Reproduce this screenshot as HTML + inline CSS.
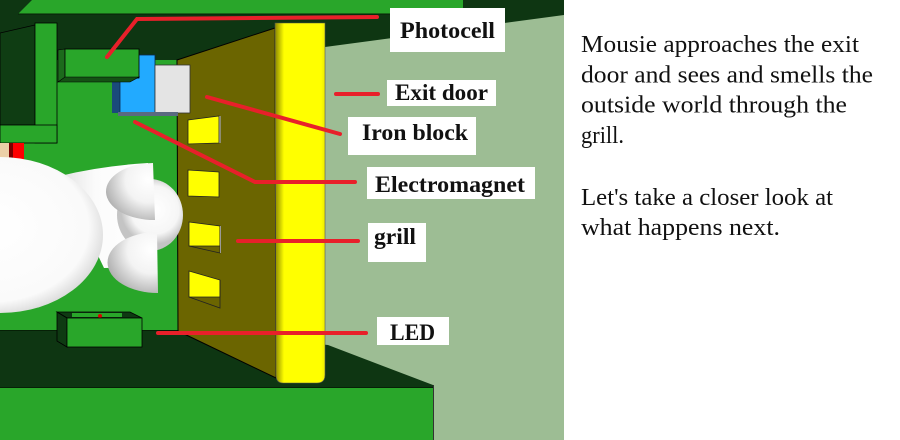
<!DOCTYPE html>
<html><head><meta charset="utf-8"><style>
html,body{margin:0;padding:0;background:#fff;}
svg{display:block;}
</style></head><body>
<svg width="900" height="440" viewBox="0 0 900 440" xmlns="http://www.w3.org/2000/svg">
<defs>
 <linearGradient id="pil" x1="0" x2="1" y1="0" y2="0">
  <stop offset="0" stop-color="#8a8600"/>
  <stop offset="0.18" stop-color="#ffff00"/>
  <stop offset="0.92" stop-color="#ffff00"/>
  <stop offset="1" stop-color="#eeee00"/>
 </linearGradient>
 <radialGradient id="body" cx="0.45" cy="0.45" r="0.6">
  <stop offset="0" stop-color="#ffffff"/>
  <stop offset="0.8" stop-color="#fafafa"/>
  <stop offset="1" stop-color="#d2d2d2"/>
 </radialGradient>
 <radialGradient id="snout" gradientUnits="userSpaceOnUse" cx="155" cy="210" r="34">
  <stop offset="0" stop-color="#ffffff"/>
  <stop offset="0.7" stop-color="#f6f6f6"/>
  <stop offset="1" stop-color="#c4c4c4"/>
 </radialGradient>
 <radialGradient id="ear1" gradientUnits="userSpaceOnUse" cx="148" cy="180" r="50">
  <stop offset="0" stop-color="#ffffff"/>
  <stop offset="0.45" stop-color="#f3f3f3"/>
  <stop offset="1" stop-color="#a0a0a0"/>
 </radialGradient>
 <radialGradient id="ear2" gradientUnits="userSpaceOnUse" cx="151" cy="250" r="52">
  <stop offset="0" stop-color="#ffffff"/>
  <stop offset="0.45" stop-color="#f3f3f3"/>
  <stop offset="1" stop-color="#a0a0a0"/>
 </radialGradient>
 <linearGradient id="neck" x1="0" x2="1" y1="0" y2="0">
  <stop offset="0" stop-color="#e2e2e2"/>
  <stop offset="0.4" stop-color="#fbfbfb"/>
  <stop offset="1" stop-color="#ffffff"/>
 </linearGradient>
</defs>

<!-- scene background (sage wall) -->
<rect x="0" y="0" width="564" height="440" fill="#9dbd94"/>
<!-- dark ceiling -->
<polygon points="0,0 564,0 564,15 325,47 275,47 275,30 177,60 0,62" fill="#0e3612"/>
<!-- bright top band -->
<polygon points="32,0 463,0 463,14 18,14" fill="#29a62a"/>
<line x1="18" y1="14" x2="463" y2="14" stroke="#062006" stroke-width="1"/>

<!-- back wall bright green -->
<rect x="0" y="60" width="178" height="271" fill="#29a62a"/>

<!-- left panel -->
<polygon points="0,33 35,25 35,125 0,125" fill="#0f3d13" stroke="#000" stroke-width="0.8"/>
<rect x="35" y="23" width="22" height="120" fill="#29a62a" stroke="#000" stroke-width="0.8"/>
<rect x="0" y="125" width="57" height="18" fill="#29a62a" stroke="#000" stroke-width="0.8"/>
<rect x="0" y="143" width="9" height="16" fill="#ecd0a8"/>
<rect x="9" y="143" width="4" height="20" fill="#7a0000"/>
<rect x="13" y="143" width="11" height="20" fill="#ff0000"/>

<!-- dark floor -->
<polygon points="0,330 178,330 328,345 433,385 433,388 0,388" fill="#0e3612"/>
<line x1="0" y1="330.5" x2="178" y2="330.5" stroke="#062006" stroke-width="1"/>
<!-- bright floor -->
<rect x="0" y="388" width="433" height="52" fill="#29a62a"/>
<line x1="0" y1="387.5" x2="433" y2="387.5" stroke="#062006" stroke-width="1"/>
<line x1="433.5" y1="385" x2="433.5" y2="440" stroke="#333" stroke-width="1"/>

<!-- door -->
<polygon points="177,60 275,28 276,378 178,331" fill="#6b6500" stroke="#000" stroke-width="1"/>

<!-- grill windows -->
<polygon points="188,120 219,116 219,143 188,144" fill="#ffff00" stroke="#222" stroke-width="0.8"/>
<line x1="220" y1="116" x2="220" y2="143" stroke="#999" stroke-width="1.5"/>
<polygon points="188,170 219,172 219,197 188,196" fill="#ffff00" stroke="#222" stroke-width="0.8"/>
<polygon points="189,222 220,226 220,246 189,246" fill="#ffff00" stroke="#222" stroke-width="0.8"/>
<polyline points="189,246 220,253 220,226" fill="none" stroke="#222" stroke-width="0.8"/>
<line x1="220.5" y1="226" x2="220.5" y2="253" stroke="#999" stroke-width="1"/>
<polygon points="189,271 220,280 220,297 189,297" fill="#ffff00" stroke="#222" stroke-width="0.8"/>
<polyline points="189,297 220,308 220,280" fill="none" stroke="#222" stroke-width="0.8"/>

<!-- pillar -->
<path d="M275,23 H325 V375 Q325,383 317,383 H283 Q276,383 276,375 Z" fill="url(#pil)" stroke="#555" stroke-width="0.6"/>

<!-- electromagnet (blue) -->
<rect x="112" y="82" width="8" height="31" fill="#1a4a7a"/>
<rect x="120" y="55" width="35" height="58" fill="#22aaff" stroke="#0a2a50" stroke-width="0.8"/>
<!-- photocell -->
<polygon points="58,50 65,49 65,78 58,82" fill="#1c6a1c" stroke="#000" stroke-width="0.6"/>
<rect x="65" y="49" width="74" height="29" fill="#29a62a" stroke="#000" stroke-width="0.8"/>
<polygon points="58,82 65,77 139,77 130,82" fill="#145214" stroke="#000" stroke-width="0.6"/>
<!-- iron block -->
<rect x="155" y="65" width="35" height="48" fill="#e4e4e4" stroke="#333" stroke-width="0.8"/>
<rect x="118" y="112" width="60" height="4" fill="#5a6a80"/>

<!-- LED box -->
<polygon points="57,312 130,312 142,318 67,318" fill="#0e3a12" stroke="#000" stroke-width="0.8"/>
<rect x="72" y="313" width="50" height="4" fill="#29a62a"/>
<circle cx="100" cy="316" r="2" fill="#d00"/>
<polygon points="57,312 67,318 67,347 57,341" fill="#0e3a12" stroke="#000" stroke-width="0.8"/>
<rect x="67" y="318" width="75" height="29" fill="#29a62a" stroke="#000" stroke-width="0.8"/>

<!-- mouse -->
<path d="M60,176 Q100,166 148,163 L148,262 Q125,268 104,268 Z" fill="url(#neck)"/>
<ellipse cx="0" cy="235" rx="103" ry="78" fill="url(#body)"/>
<ellipse cx="150" cy="215" rx="33" ry="36" fill="url(#snout)"/>
<path d="M153,163 A48,28.5 0 0 0 155,220 Z" fill="url(#ear1)"/>
<path d="M157,232 A50,30.5 0 0 0 158,293 Z" fill="url(#ear2)"/>

<!-- red pointer lines -->
<g stroke="#e8202a" stroke-width="4" stroke-linecap="round" fill="none">
 <polyline points="107,57 137,19 377,17"/>
 <line x1="336" y1="94" x2="378" y2="94"/>
 <line x1="207" y1="97" x2="340" y2="134"/>
 <polyline points="135,122 255,182 355,182"/>
 <line x1="238" y1="241" x2="358" y2="241"/>
 <line x1="158" y1="333" x2="366" y2="333"/>
</g>

<!-- labels -->
<g fill="#fff">
 <rect x="390" y="8" width="115" height="44"/>
 <rect x="387" y="80" width="109" height="26"/>
 <rect x="348" y="117" width="128" height="38"/>
 <rect x="367" y="167" width="168" height="32"/>
 <rect x="368" y="223" width="58" height="39"/>
 <rect x="377" y="317" width="72" height="28"/>
</g>
<g font-family="'Liberation Serif', serif" font-weight="bold" font-size="23" fill="#111">
 <text x="400" y="38" textLength="95" lengthAdjust="spacingAndGlyphs">Photocell</text>
 <text x="395" y="100" textLength="93" lengthAdjust="spacingAndGlyphs">Exit door</text>
 <text x="362" y="140" textLength="106" lengthAdjust="spacingAndGlyphs">Iron block</text>
 <text x="375" y="192" textLength="150" lengthAdjust="spacingAndGlyphs">Electromagnet</text>
 <text x="374" y="244" textLength="42" lengthAdjust="spacingAndGlyphs">grill</text>
 <text x="390" y="340" textLength="45" lengthAdjust="spacingAndGlyphs">LED</text>
</g>

<!-- right side description -->
<g font-family="'Liberation Serif', serif" font-size="24" fill="#111">
 <text x="581" y="52" textLength="278" lengthAdjust="spacingAndGlyphs">Mousie approaches the exit</text>
 <text x="581" y="82.5" textLength="292" lengthAdjust="spacingAndGlyphs">door and sees and smells the</text>
 <text x="581" y="112.5" textLength="266" lengthAdjust="spacingAndGlyphs">outside world through the</text>
 <text x="581" y="143" textLength="43" lengthAdjust="spacingAndGlyphs">grill.</text>
 <text x="581" y="205" textLength="252" lengthAdjust="spacingAndGlyphs">Let's take a closer look at</text>
 <text x="581" y="235" textLength="199" lengthAdjust="spacingAndGlyphs">what happens next.</text>
</g>
</svg>
</body></html>
